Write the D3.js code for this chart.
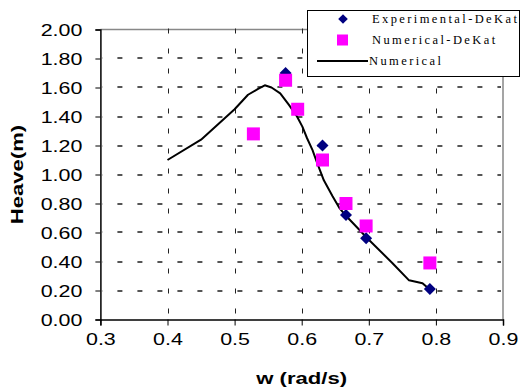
<!DOCTYPE html>
<html>
<head>
<meta charset="utf-8">
<script src="https://cdn.jsdelivr.net/npm/d3@7"></script>
<style>
  html, body { margin: 0; padding: 0; background: #fff; }
  svg { display: block; }
</style>
</head>
<body>
<svg id="chart" width="521" height="390"></svg>
<script>
// Heave response vs wave frequency
const xTicks = [0.3, 0.4, 0.5, 0.6, 0.7, 0.8, 0.9];
const yTicks = [0, 0.2, 0.4, 0.6, 0.8, 1.0, 1.2, 1.4, 1.6, 1.8, 2.0];

// Experimental (De Kat)
const expW     = [0.576, 0.631, 0.666, 0.696, 0.791];
const expHeave = [1.70, 1.20, 0.72, 0.56, 0.21];

// Numerical (De Kat)
const dkW      = [0.528, 0.576, 0.594, 0.631, 0.666, 0.696, 0.791];
const dkHeave  = [1.28, 1.65, 1.45, 1.10, 0.80, 0.645, 0.39];

// Numerical (present computation)
const numW     = [0.40, 0.45, 0.50, 0.51, 0.52, 0.535, 0.545, 0.555, 0.568, 0.581, 0.593, 0.601, 0.608, 0.616, 0.623, 0.633, 0.646, 0.656, 0.667, 0.70, 0.735, 0.76, 0.78, 0.79];
const numHeave = [1.10, 1.24, 1.45, 1.50, 1.55, 1.59, 1.615, 1.60, 1.56, 1.48, 1.40, 1.33, 1.25, 1.17, 1.08, 0.96, 0.85, 0.77, 0.71, 0.55, 0.39, 0.27, 0.25, 0.21];

const legendLabels = ["Experimental-DeKat", "Numerical-DeKat", "Numerical"];

const svg = d3.select("#chart");
const plotL = 100.4, plotR = 503, plotT = 29.5, plotB = 319.5;
const x = d3.scaleLinear().domain([0.3, 0.9]).range([plotL, plotR]);
const y = d3.scaleLinear().domain([0, 2]).range([plotB, plotT]);
const stretch = 1.3;

// dash pattern for the horizontal gridlines (5 on, 15 off)
const defs = svg.append("defs");
defs.append("pattern")
  .attr("id", "hdash").attr("patternUnits", "userSpaceOnUse")
  .attr("x", plotL + 17).attr("y", 0).attr("width", 20).attr("height", 400)
  .append("rect").attr("x", 0).attr("y", 0).attr("width", 5).attr("height", 400)
  .attr("fill", "#555");

// plot frame (top and right)
svg.append("path")
  .attr("d", `M${plotL},${plotT}H${plotR}V${plotB}`)
  .attr("fill", "none").attr("stroke", "#888").attr("stroke-width", 1.5);

// horizontal dashed gridlines
svg.append("g").selectAll("rect")
  .data(yTicks.filter(d => d > 0 && d < 2))
  .join("rect")
  .attr("x", plotL + 2).attr("y", d => Math.round(y(d)) - 1)
  .attr("width", plotR - plotL - 4).attr("height", 2)
  .attr("fill", "url(#hdash)");

// vertical dashed gridlines
const vStarts = d3.range(plotT - 1, plotB - 3, 20);
svg.append("g").selectAll("line")
  .data(xTicks.filter(d => d > 0.3 && d < 0.9).flatMap(t => vStarts.map(py => [t, py])))
  .join("line")
  .attr("x1", d => Math.round(x(d[0])) + 0.5).attr("x2", d => Math.round(x(d[0])) + 0.5)
  .attr("y1", d => d[1]).attr("y2", d => d[1] + 5)
  .attr("stroke", "#222").attr("stroke-width", 1);

// axes
const yAxis = svg.append("g").attr("transform", `translate(${plotL},0)`)
  .call(d3.axisLeft(y).tickValues(yTicks).tickSize(5).tickFormat(d3.format(".2f")));
const xAxis = svg.append("g").attr("transform", `translate(0,${plotB})`)
  .call(d3.axisBottom(x).tickValues(xTicks).tickSize(6).tickFormat(d3.format(".1f")));
[yAxis, xAxis].forEach(g => {
  g.select(".domain").attr("stroke", "#000").attr("stroke-width", 1.5);
  g.selectAll(".tick line").attr("stroke", "#000");
  g.selectAll("text").attr("font-family", "Liberation Sans, Arial, sans-serif")
    .attr("font-size", 16.5).attr("fill", "#000");
});
yAxis.selectAll(".tick text")
  .attr("x", null).attr("dy", null)
  .attr("text-anchor", "end")
  .attr("transform", `translate(-18,6) scale(${stretch},1)`);
xAxis.selectAll(".tick text")
  .attr("y", null).attr("dy", null)
  .attr("text-anchor", "middle")
  .attr("transform", `translate(0,25) scale(${stretch},1)`);

// axis titles
svg.append("text")
  .attr("transform", `translate(${(plotL + plotR) / 2},${384}) scale(${stretch},1)`)
  .attr("text-anchor", "middle")
  .attr("font-family", "Liberation Sans, Arial, sans-serif")
  .attr("font-weight", "bold").attr("font-size", 17)
  .text("w (rad/s)");
svg.append("text")
  .attr("transform", `translate(23,${(plotT + plotB) / 2}) rotate(-90) scale(${stretch},1)`)
  .attr("text-anchor", "middle")
  .attr("font-family", "Liberation Sans, Arial, sans-serif")
  .attr("font-weight", "bold").attr("font-size", 17)
  .text("Heave(m)");

// numerical curve
svg.append("path")
  .datum(numW.map((w, i) => [w, numHeave[i]]))
  .attr("fill", "none").attr("stroke", "#000").attr("stroke-width", 2)
  .attr("stroke-linejoin", "round")
  .attr("d", d3.line().x(d => x(d[0])).y(d => y(d[1])));

// experimental diamonds
const diamond = d3.symbol().type(d3.symbolSquare).size(72);
svg.append("g").selectAll("path").data(expW.map((w, i) => [w, expHeave[i]])).join("path")
  .attr("d", diamond)
  .attr("transform", d => `translate(${x(d[0])},${y(d[1])}) rotate(45)`)
  .attr("fill", "#000080");

// De Kat numerical squares
const sq = 13;
svg.append("g").selectAll("rect").data(dkW.map((w, i) => [w, dkHeave[i]])).join("rect")
  .attr("x", d => x(d[0]) - sq / 2).attr("y", d => y(d[1]) - sq / 2)
  .attr("width", sq).attr("height", sq)
  .attr("fill", "#ff00ff");

// legend
const lg = svg.append("g");
lg.append("rect").attr("x", 307.5).attr("y", 10.5).attr("width", 212).attr("height", 66)
  .attr("fill", "#fff").attr("stroke", "#000").attr("stroke-width", 1);
const rows = [19, 40, 61];
lg.append("path").attr("d", diamond)
  .attr("transform", `translate(343,${rows[0]}) rotate(45) scale(0.8)`)
  .attr("fill", "#000080");
lg.append("rect").attr("x", 337).attr("y", rows[1] - 5.5).attr("width", 11).attr("height", 11)
  .attr("fill", "#ff00ff");
lg.append("line").attr("x1", 317).attr("x2", 368).attr("y1", rows[2]).attr("y2", rows[2])
  .attr("stroke", "#000").attr("stroke-width", 2);
lg.selectAll("text.lab").data(legendLabels).join("text")
  .attr("class", "lab")
  .attr("x", (d, i) => i === 2 ? 369 : 372)
  .attr("y", (d, i) => rows[i] + 4)
  .attr("font-family", "Liberation Serif, Times New Roman, serif")
  .attr("font-size", 12.5)
  .attr("letter-spacing", 2.4)
  .attr("fill", "#000")
  .text(d => d);
</script>
</body>
</html>
